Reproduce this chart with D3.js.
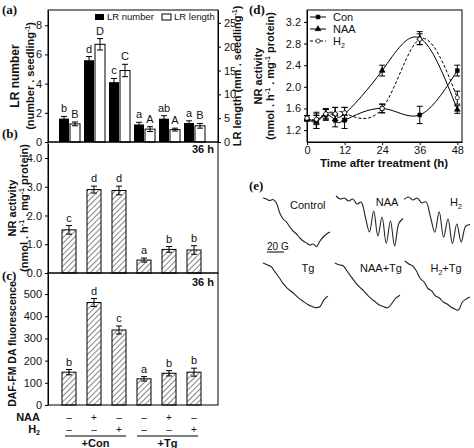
<!DOCTYPE html>
<html><head><meta charset="utf-8">
<script src="https://cdn.jsdelivr.net/npm/d3@7"></script>
<style>
body{margin:0;background:#fff}
text{font-family:"Liberation Sans",Arial,sans-serif;fill:#111}
.tick text{font-size:11px}
.ttl{font-weight:bold;font-size:11px}
.plab{font-family:"Liberation Serif",serif;font-weight:bold;font-size:13px}
</style></head><body>
<svg width="474" height="448"></svg>
<script>
let groups = ['g1','g2','g3','g4','g5','g6']
let lrNumber = [1.6, 5.6, 4.1, 1.2, 1.6, 1.3]
let lrNumberErr = [0.15, 0.25, 0.25, 0.15, 0.2, 0.15]
let lrNumberSig = ['b','d','c','a','ab','a']
let lrLength = [3.8, 20.5, 15.0, 2.7, 2.6, 3.4]
let lrLengthErr = [0.4, 1.2, 1.3, 0.5, 0.3, 0.5]
let lrLengthSig = ['B','D','C','A','A','B']
let nrActivity = [1.5, 2.9, 2.87, 0.45, 0.82, 0.8]
let nrErr = [0.15, 0.12, 0.15, 0.07, 0.1, 0.15]
let nrSig = ['c','d','d','a','b','b']
let daf = [148, 462, 338, 118, 143, 148]
let dafErr = [12, 18, 18, 10, 12, 18]
let dafSig = ['b','d','c','a','b','b']
let naaRow = ['\u2013','+','\u2013','\u2013','+','\u2013']
let h2Row = ['\u2013','\u2013','+','\u2013','\u2013','+']

let hours = [0, 3, 6, 9, 12, 24, 36, 48]
let conSeries = [1.42, 1.38, 1.48, 1.38, 1.38, 1.6, 1.48, 2.3]
let conErr = [0.05, 0.15, 0.1, 0.12, 0.15, 0.08, 0.16, 0.1]
let naaSeries = [1.42, 1.35, 1.5, 1.5, 1.5, 2.3, 2.9, 1.58]
let naaErr = [0.05, 0.12, 0.08, 0.12, 0.12, 0.1, 0.12, 0.07]
let h2Series = [1.42, 1.4, 1.5, 1.5, 1.52, 1.6, 2.88, 1.8]
let h2Err = [0.05, 0.1, 0.1, 0.12, 0.1, 0.08, 0.1, 0.12]

// EPR traces, relative depth 0..1
let epr = {
  'Control': [0,0.02,0.05,0.03,0.1,0.3,0.42,0.48,0.58,0.66,0.72,0.8,0.86,0.9,0.94,0.92,0.97,0.86,0.78,0.72,0.68],
  'NAA': [0,0.06,0.04,0.1,0.06,0.16,0.12,0.42,0.72,0.3,0.8,0.42,0.95,0.5,1.0,0.55,0.45],
  'H2': [0.05,0,0.06,0.02,0.12,0.1,0.4,0.72,0.3,0.82,0.45,0.95,0.55,0.92,0.6,0.56],
  'Tg': [0,0.04,0.08,0.2,0.32,0.45,0.55,0.62,0.7,0.78,0.84,0.9,0.94,0.97,0.95,0.8,0.72],
  'NAA+Tg': [0,0.04,0.06,0.18,0.3,0.42,0.52,0.6,0.7,0.78,0.85,0.92,0.95,0.97,0.88,0.76,0.7],
  'H2+Tg': [0,0.06,0.1,0.2,0.35,0.42,0.55,0.6,0.7,0.74,0.82,0.86,0.92,0.96,0.98,0.82,0.76,0.72]
}

let svg = d3.select('svg')
let defs = svg.append('defs')
let pat = defs.append('pattern').attr('id','hatch').attr('patternUnits','userSpaceOnUse')
  .attr('width',4).attr('height',4).attr('patternTransform','rotate(45)')
pat.append('rect').attr('width',4).attr('height',4).attr('fill','#fff')
pat.append('line').attr('x1',0).attr('y1',0).attr('x2',0).attr('y2',4).attr('stroke','#333').attr('stroke-width',1.2)

let left = 48, right = 218
let x = d3.scaleBand().domain(groups).range([56, 206])

let errBar = (g, cx, yS, v, e) => {
  g.append('line').attr('x1',cx).attr('x2',cx).attr('y1',yS(v-e)).attr('y2',yS(v+e)).attr('stroke','#000')
  ;[v-e, v+e].forEach(t => g.append('line').attr('x1',cx-3).attr('x2',cx+3).attr('y1',yS(t)).attr('y2',yS(t)).attr('stroke','#000'))
}
let frame = (top, bottom) => svg.append('rect').attr('x',left).attr('y',top).attr('width',right-left)
  .attr('height',bottom-top).attr('fill','none').attr('stroke','#000')

// panel a
let yA = d3.scaleLinear().domain([0, 9]).range([142, 10.6])
let yA2 = d3.scaleLinear().domain([0, 27.7]).range([142, 10])
svg.append('g').attr('transform',`translate(${left},0)`).call(d3.axisLeft(yA).tickValues([0,2,4,6,8]).tickSize(3).tickSizeOuter(0))
svg.append('g').attr('transform',`translate(${right},0)`).call(d3.axisRight(yA2).tickValues([0,5,10,15,20,25]).tickSize(3).tickSizeOuter(0))
lrNumber.forEach((v, i) => {
  let cx = x(groups[i]) + 8
  svg.append('rect').attr('x',cx-5).attr('y',yA(v)).attr('width',10).attr('height',142-yA(v)).attr('fill','#000')
  errBar(svg, cx, yA, v, lrNumberErr[i])
  svg.append('text').attr('x',cx).attr('y',yA(v+lrNumberErr[i])-4).attr('text-anchor','middle').style('font-size','11px').text(lrNumberSig[i])
  let cx2 = cx + 11, w = lrLength[i]
  svg.append('rect').attr('x',cx2-5).attr('y',yA2(w)).attr('width',10).attr('height',142-yA2(w)).attr('fill','#fff').attr('stroke','#000')
  errBar(svg, cx2, yA2, w, lrLengthErr[i])
  svg.append('text').attr('x',cx2).attr('y',yA2(w+lrLengthErr[i])-4).attr('text-anchor','middle').style('font-size','11px').text(lrLengthSig[i])
})
frame(10, 142)
svg.append('rect').attr('x',95).attr('y',14).attr('width',9).attr('height',6).attr('fill','#000')
svg.append('text').attr('x',107).attr('y',20).style('font-size','9.5px').text('LR number')
svg.append('rect').attr('x',162).attr('y',14).attr('width',9).attr('height',6).attr('fill','#fff').attr('stroke','#000')
svg.append('text').attr('x',174).attr('y',20).style('font-size','9.5px').text('LR length')

// panel b
let yB = d3.scaleLinear().domain([0, 4.5]).range([273, 143.6])
svg.append('g').attr('transform',`translate(${left},0)`).call(d3.axisLeft(yB).tickValues([0,1,2,3,4]).tickSize(3).tickSizeOuter(0))
nrActivity.forEach((v, i) => {
  let cx = x(groups[i]) + 13
  svg.append('rect').attr('x',cx-7).attr('y',yB(v)).attr('width',14).attr('height',273-yB(v)).attr('fill','url(#hatch)').attr('stroke','#000')
  errBar(svg, cx, yB, v, nrErr[i])
  svg.append('text').attr('x',cx).attr('y',yB(v+nrErr[i])-4).attr('text-anchor','middle').style('font-size','11px').text(nrSig[i])
})
frame(142, 273)
svg.append('text').attr('x',214).attr('y',153).attr('text-anchor','end').attr('class','ttl').text('36 h')

// panel c
let yC = d3.scaleLinear().domain([0, 595]).range([405, 273])
svg.append('g').attr('transform',`translate(${left},0)`).call(d3.axisLeft(yC).tickValues([0,100,200,300,400,500]).tickSize(3).tickSizeOuter(0))
daf.forEach((v, i) => {
  let cx = x(groups[i]) + 13
  svg.append('rect').attr('x',cx-7).attr('y',yC(v)).attr('width',14).attr('height',405-yC(v)).attr('fill','url(#hatch)').attr('stroke','#000')
  errBar(svg, cx, yC, v, dafErr[i])
  svg.append('text').attr('x',cx).attr('y',yC(v+dafErr[i])-4).attr('text-anchor','middle').style('font-size','11px').text(dafSig[i])
  svg.append('text').attr('x',cx).attr('y',421).attr('text-anchor','middle').style('font-size','10px').text(naaRow[i])
  svg.append('text').attr('x',cx).attr('y',433).attr('text-anchor','middle').style('font-size','10px').text(h2Row[i])
})
frame(273, 405)
svg.append('text').attr('x',214).attr('y',286).attr('text-anchor','end').attr('class','ttl').text('36 h')
svg.append('text').attr('x',40).attr('y',421).attr('text-anchor','end').attr('class','ttl').text('NAA')
svg.append('text').attr('x',40).attr('y',433).attr('text-anchor','end').attr('class','ttl').html('H<tspan dy="2" font-size="7">2</tspan>')
;[[65,126,'+Con'],[137,198,'+Tg']].forEach(d => {
  svg.append('line').attr('x1',d[0]).attr('x2',d[1]).attr('y1',436).attr('y2',436).attr('stroke','#000')
  svg.append('text').attr('x',(d[0]+d[1])/2).attr('y',447).attr('text-anchor','middle').attr('class','ttl').text(d[2])
})

// y titles
let vtitle = (tx, ty, html, size) => svg.append('text').attr('transform',`translate(${tx},${ty}) rotate(-90)`)
  .attr('text-anchor','middle').attr('class','ttl').style('font-size',size||'11px').html(html)
vtitle(19, 76, 'LR number', '12px')
vtitle(34, 76, '(number . seedling<tspan dy="-4" font-size="7">-1</tspan><tspan dy="4">)</tspan>')
vtitle(241, 76, 'LR length (mm . seedling<tspan dy="-4" font-size="7">-1</tspan><tspan dy="4">)</tspan>')
vtitle(16, 208, 'NR activity')
vtitle(28, 208, '(nmol . h<tspan dy="-4" font-size="7">-1</tspan><tspan dy="4"> . mg</tspan><tspan dy="-4" font-size="7">-1</tspan><tspan dy="4"> protein)</tspan>')
vtitle(16, 344, 'DAF-FM DA fluorescence', '10.5px')
svg.append('text').attr('x',2).attr('y',14).attr('class','plab').text('(a)')
svg.append('text').attr('x',2).attr('y',138).attr('class','plab').text('(b)')
svg.append('text').attr('x',2).attr('y',280).attr('class','plab').text('(c)')

// panel d
let xD = d3.scaleLinear().domain([0, 49.5]).range([307, 462])
let yD = d3.scaleLinear().domain([0.98, 3.42]).range([142, 10])
svg.append('g').attr('transform','translate(0,142)').call(d3.axisBottom(xD).tickValues([0,12,24,36,48]).tickSize(3).tickPadding(1).tickSizeOuter(0))
svg.append('g').attr('transform','translate(307,0)').call(d3.axisLeft(yD).tickValues([1.2,1.6,2.0,2.4,2.8,3.2]).tickFormat(d3.format('.1f')).tickSize(3).tickSizeOuter(0))
svg.append('rect').attr('x',307).attr('y',10).attr('width',155).attr('height',132).attr('fill','none').attr('stroke','#000')
let line = d3.line().x((d, i) => xD(hours[i])).y(d => yD(d)).curve(d3.curveNatural)
let series = [
  {name:'Con', v:conSeries, e:conErr, dash:null, sym:d3.symbolSquare, fill:'#000'},
  {name:'NAA', v:naaSeries, e:naaErr, dash:null, sym:d3.symbolTriangle, fill:'#000'},
  {name:'H2', v:h2Series, e:h2Err, dash:'3,2', sym:d3.symbolCircle, fill:'#fff'}
]
series.forEach((s, k) => {
  svg.append('path').attr('d', line(s.v)).attr('fill','none').attr('stroke','#000').attr('stroke-width',1).attr('stroke-dasharray',s.dash)
  s.v.forEach((v, i) => {
    errBar(svg, xD(hours[i]), yD, v, s.e[i])
    svg.append('path').attr('d', d3.symbol(s.sym, 14)()).attr('transform',`translate(${xD(hours[i])},${yD(v)})`).attr('fill',s.fill).attr('stroke','#000').attr('stroke-width',0.7)
  })
  let ly = 17 + k * 12
  svg.append('line').attr('x1',310).attr('x2',326).attr('y1',ly).attr('y2',ly).attr('stroke','#000').attr('stroke-dasharray',s.dash)
  svg.append('path').attr('d', d3.symbol(s.sym, 14)()).attr('transform',`translate(318,${ly})`).attr('fill',s.fill).attr('stroke','#000').attr('stroke-width',0.7)
  svg.append('text').attr('x',333).attr('y',ly+4).style('font-size','11px')
    .html(s.name === 'H2' ? 'H<tspan dy="3" font-size="7">2</tspan>' : s.name)
})
svg.append('text').attr('x',384).attr('y',167).attr('text-anchor','middle').attr('class','ttl').style('font-size','11.5px').text('Time after treatment (h)')
vtitle(262, 76, 'NR activity')
vtitle(274, 76, '(nmol . h<tspan dy="-4" font-size="7">-1</tspan><tspan dy="4"> . mg</tspan><tspan dy="-4" font-size="7">-1</tspan><tspan dy="4"> protein)</tspan>')
svg.append('text').attr('x',249).attr('y',14).attr('class','plab').text('(d)')

// panel e
svg.append('text').attr('x',249).attr('y',190).attr('class','plab').text('(e)')
let cells = [
  {k:'Control', x0:263, x1:330, y0:198, h:50, lx:290, ly:209, anchor:'start'},
  {k:'NAA', x0:336, x1:403, y0:196, h:50, lx:387, ly:206, anchor:'middle'},
  {k:'H2', x0:404, x1:470, y0:197, h:49, lx:456, ly:206, anchor:'middle'},
  {k:'Tg', x0:263, x1:328, y0:263, h:46, lx:308, ly:272, anchor:'middle'},
  {k:'NAA+Tg', x0:335, x1:400, y0:263, h:46, lx:381, ly:272, anchor:'middle'},
  {k:'H2+Tg', x0:405, x1:470, y0:261, h:50, lx:446, ly:272, anchor:'middle'}
]
cells.forEach(c => {
  let vals = epr[c.k]
  let ex = d3.scaleLinear().domain([0, vals.length - 1]).range([c.x0, c.x1])
  let ey = d3.scaleLinear().domain([0, 1]).range([c.y0, c.y0 + c.h])
  svg.append('path').attr('d', d3.line().x((d, i) => ex(i)).y(d => ey(d)).curve(d3.curveCatmullRom)(vals)).attr('fill','none').attr('stroke','#222').attr('stroke-width',1.1)
  let label = c.k.replace('H2', 'H<tspan dy="3" font-size="7">2</tspan><tspan dy="-3">')
  if (label !== c.k) label += '</tspan>'
  svg.append('text').attr('x',c.lx).attr('y',c.ly).attr('text-anchor',c.anchor).style('font-size','11px').html(label)
})
svg.append('text').attr('x',267).attr('y',250).style('font-size','10px').text('20 G')
svg.append('line').attr('x1',267).attr('x2',284).attr('y1',252).attr('y2',252).attr('stroke','#000')
</script>
</body></html>
